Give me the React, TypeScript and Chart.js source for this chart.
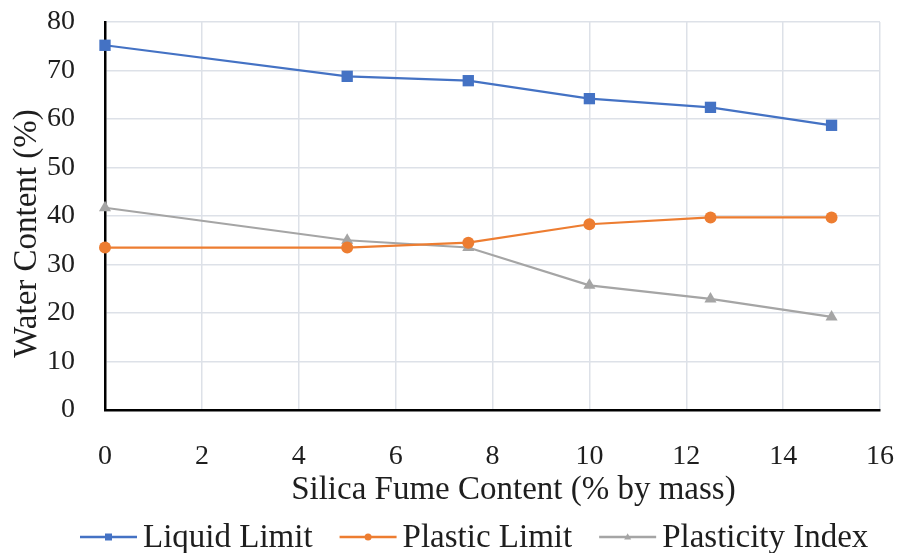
import React, { useEffect, useRef } from "react";
import { Chart, registerables } from "chart.js";

Chart.register(...registerables);

const silicaFume = [0, 5, 7.5, 10, 12.5, 15];
const liquidLimit = [75.2, 68.8, 67.9, 64.2, 62.4, 58.7];
const plasticLimit = [33.5, 33.5, 34.5, 38.3, 39.7, 39.7];
const plasticityIndex = [41.7, 35.0, 33.5, 25.7, 22.9, 19.2];
const seriesLabels = ["Liquid Limit", "Plastic Limit", "Plasticity Index"];
const seriesColors = ["#4472C4", "#ED7D31", "#A5A5A5"];
const seriesMarkers = ["rect", "circle", "triangle"];
const seriesRadius = [8, 6, 7];
const xTitle = "Silica Fume Content (% by mass)";
const yTitle = "Water Content (%)";

const FONT = '"Liberation Serif", "Times New Roman", serif';
const TEXT = "#1e1e1e";

function drawMarker(ctx: CanvasRenderingContext2D, style: string, x: number, y: number, r: number) {
  ctx.beginPath();
  if (style === "rect") {
    ctx.rect(x - r, y - r, 2 * r, 2 * r);
  } else if (style === "circle") {
    ctx.arc(x, y, r, 0, Math.PI * 2);
  } else {
    ctx.moveTo(x, y - r * 1.1);
    ctx.lineTo(x + r, y + r * 0.7);
    ctx.lineTo(x - r, y + r * 0.7);
    ctx.closePath();
  }
  ctx.fill();
}

const annotations = {
  id: "annotations",
  afterDraw(chart: any) {
    const ctx: CanvasRenderingContext2D = chart.ctx;
    const area = chart.chartArea;
    ctx.save();
    ctx.fillStyle = TEXT;
    ctx.font = `33px ${FONT}`;
    ctx.textAlign = "center";
    ctx.textBaseline = "middle";
    // x axis title
    ctx.fillText(xTitle, area.left + (area.right - area.left) * 0.527, 490);
    // y axis title
    ctx.save();
    ctx.translate(27, area.top + (area.bottom - area.top) * 0.545);
    ctx.rotate(-Math.PI / 2);
    ctx.fillText(yTitle, 0, 0);
    ctx.restore();

    // legend
    ctx.textAlign = "left";
    const lineLen = 57;
    const gap = 6;
    const itemGap = 27;
    let x = 80;
    const y = 537;
    chart.data.datasets.forEach((ds: any, i: number) => {
      const w = ctx.measureText(ds.label).width;
      ctx.strokeStyle = ds.borderColor;
      ctx.fillStyle = ds.borderColor;
      ctx.lineWidth = 2.5;
      ctx.beginPath();
      ctx.moveTo(x, y);
      ctx.lineTo(x + lineLen, y);
      ctx.stroke();
      drawMarker(ctx, seriesMarkers[i], x + lineLen / 2, y, 3.5);
      ctx.fillStyle = TEXT;
      ctx.fillText(ds.label, x + lineLen + gap, y + 1);
      x += lineLen + gap + w + itemGap;
    });
    ctx.restore();
  },
};

export default function App() {
  const ref = useRef<HTMLCanvasElement | null>(null);
  useEffect(() => {
    if (!ref.current) return;
    const allSeries = [liquidLimit, plasticLimit, plasticityIndex];
    const chart = new Chart(ref.current, {
      type: "line",
      data: {
        datasets: allSeries.map((vals, i) => ({
          label: seriesLabels[i],
          data: silicaFume.map((x, j) => ({ x, y: vals[j] })),
          borderColor: seriesColors[i],
          backgroundColor: seriesColors[i],
          borderWidth: 2.2,
          pointStyle: seriesMarkers[i] as any,
          pointRadius: seriesRadius[i],
          pointBorderWidth: 0,
          tension: 0,
          clip: false as any,
        })),
      },
      options: {
        animation: false,
        responsive: false,
        layout: { autoPadding: false, padding: { left: 0, right: 23, top: 22, bottom: 0 } },
        plugins: {
          legend: { display: false },
          tooltip: { enabled: false },
        },
        scales: {
          x: {
            type: "linear",
            min: 0,
            max: 16,
            ticks: {
              stepSize: 2,
              padding: 30,
              color: TEXT,
              font: { family: FONT, size: 28 },
              maxRotation: 0,
            },
            grid: { color: "#dde1e8", lineWidth: 1.5, drawTicks: false },
            border: { color: "#000000", width: 2.5, z: 1 },
            afterFit: (scale: any) => {
              scale.height = 143;
              scale.paddingLeft = 0;
              scale.paddingRight = 0;
            },
          },
          y: {
            min: 0,
            max: 80,
            ticks: {
              stepSize: 10,
              padding: 30,
              color: TEXT,
              font: { family: FONT, size: 28 },
            },
            grid: { color: "#dde1e8", lineWidth: 1.5, drawTicks: false },
            border: { color: "#000000", width: 2.5 },
            afterFit: (scale: any) => {
              scale.width = 105;
              scale.paddingTop = 0;
              scale.paddingBottom = 0;
            },
          },
        },
      },
      plugins: [annotations],
    });
    return () => chart.destroy();
  }, []);
  return (
    <div style={{ position: "fixed", left: 0, top: 0, width: 903, height: 553, background: "#fff" }}>
      <canvas ref={ref} width={903} height={553} style={{ display: "block" }} />
    </div>
  );
}
